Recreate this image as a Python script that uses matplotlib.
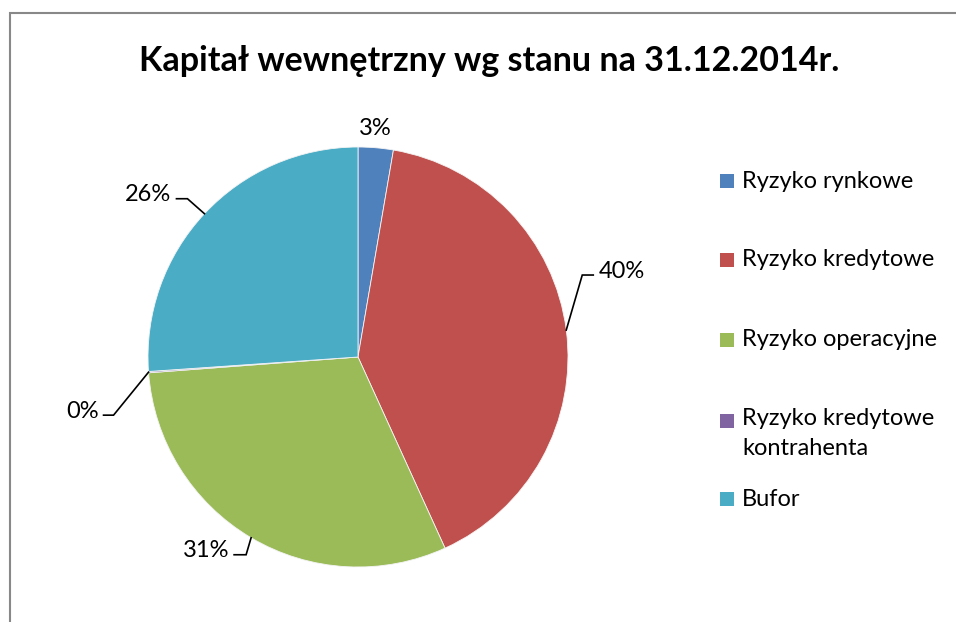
import numpy as np
import matplotlib
matplotlib.use("Agg")
import matplotlib.pyplot as plt
from matplotlib.patches import Rectangle

plt.rcParams['font.family'] = ['Lato', 'DejaVu Sans']

title = "Kapitał wewnętrzny wg stanu na 31.12.2014r."
categories = ["Ryzyko rynkowe", "Ryzyko kredytowe", "Ryzyko operacyjne",
              "Ryzyko kredytowe\nkontrahenta", "Bufor"]
values = [2.7, 40.5, 30.6, 0.1, 26.1]
pct_labels = ["3%", "40%", "31%", "0%", "26%"]
colors = ["#4F81BD", "#C0504D", "#9BBB59", "#8064A2", "#4BACC6"]

W, H = 956, 622
fig = plt.figure(figsize=(W / 100, H / 100), dpi=100)

# frame
fig.add_artist(Rectangle((10 / W, -0.1), 1.2, 1 - 13 / H + 0.1,
                         transform=fig.transFigure, fill=False,
                         edgecolor="#888888", linewidth=1.5))

fig.text(489 / W, 1 - 61 / H, title, ha="center", va="center",
         fontsize=24.5, fontweight="bold")

R = 210
ax = fig.add_axes([(358 - R) / W, (H - 357 - R) / H, 2 * R / W, 2 * R / H])
wedges, _ = ax.pie(values, colors=colors, startangle=90, counterclock=False,
                   radius=1, wedgeprops=dict(linewidth=0.6, edgecolor="#f4f4f4"))
ax.set_xlim(-1, 1)
ax.set_ylim(-1, 1)
ax.set_aspect("equal")
ax.axis("off")
ax.set_clip_on(False)

FS = 17
px = 1 / R
# (elbow dx, dy, horizontal length, side) in pixels; None = no leader
leaders = [None,
           (16, 55, 11, 1),
           (-5, -17, 12, -1),
           (-35, -43, 10, -1),
           (-17, 15, 11, -1)]
for w, lab, ld in zip(wedges, pct_labels, leaders):
    mid = np.deg2rad((w.theta1 + w.theta2) / 2)
    ex, ey = np.cos(mid), np.sin(mid)
    if ld is None:
        ax.text(ex, ey + 19 * px, lab, ha="center", va="center",
                fontsize=FS, clip_on=False)
        continue
    dx, dy, hl, side = ld
    bx, by = ex + dx * px, ey + dy * px
    cx = bx + side * hl * px
    ax.plot([ex, bx, cx], [ey, by, by], color="black", lw=1.2,
            clip_on=False, solid_joinstyle="miter")
    ax.text(cx + side * 5 * px, by + 4 * px, lab,
            ha="left" if side > 0 else "right", va="center",
            fontsize=FS, clip_on=False)

# legend
leg_y = [181, 260, 340, 421, 499]
for cat, col, y in zip(categories, colors, leg_y):
    fig.add_artist(Rectangle((720 / W, 1 - (y + 7) / H), 14 / W, 14 / H,
                             transform=fig.transFigure, facecolor=col,
                             edgecolor="none"))
    if "\n" in cat:
        fig.text(742 / W, 1 - (y - 13) / H, cat, ha="left", va="top",
                 fontsize=FS, linespacing=1.55)
    else:
        fig.text(742 / W, 1 - y / H, cat, ha="left", va="center", fontsize=FS)

fig.savefig("out.png", dpi=100)
